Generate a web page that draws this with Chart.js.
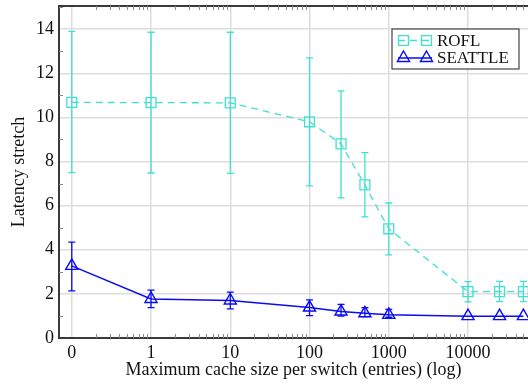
<!DOCTYPE html>
<html>
<head>
<meta charset="utf-8">
<script src="https://cdn.jsdelivr.net/npm/chart.js@4"></script>
<style>
  html, body { margin: 0; padding: 0; background: #fff; }
  canvas { display: block; }
</style>
</head>
<body>
<canvas id="myChart" width="528" height="386"></canvas>
<script>
// cache sizes per switch; 0 is put one decade below 1 on the log axis
const cacheSizes = [0, 1, 10, 100, 250, 500, 1000, 10000, 25000, 50000];

const roflMean = [10.68, 10.67, 10.66, 9.8, 8.8, 6.94, 4.95, 2.1, 2.1, 2.1];
const roflLow  = [7.5, 7.48, 7.46, 6.9, 6.35, 5.49, 3.77, 1.64, 1.65, 1.65];
const roflHigh = [13.9, 13.86, 13.86, 12.7, 11.2, 8.4, 6.12, 2.56, 2.57, 2.57];

const seattleMean = [3.27, 1.77, 1.7, 1.38, 1.2, 1.12, 1.05, 0.99, 0.99, 0.99];
const seattleLow  = [2.14, 1.38, 1.32, 1.01, 0.99, 0.97, 0.94, 0.99, 0.99, 0.99];
const seattleHigh = [4.35, 2.17, 2.08, 1.73, 1.52, 1.38, 1.3, 0.99, 0.99, 0.99];

const xTickValues = [0, 1, 10, 100, 1000, 10000];
const yTickValues = [0, 2, 4, 6, 8, 10, 12, 14];

const FONT = "'Liberation Serif', 'Times New Roman', serif";
const ROFL_COLOR = '#40e0d0';
const SEATTLE_COLOR = 'rgb(10,10,245)';

function toX(v) { return v === 0 ? 0.1 : v; }

function points(ys) {
    return cacheSizes.map((c, i) => ({ x: toX(c), y: ys[i] }));
}

function noPadding(scale) {
    scale.paddingTop = 0;
    scale.paddingBottom = 0;
    scale.paddingLeft = 0;
    scale.paddingRight = 0;
}

// error bars, minor ticks and the top frame line
const decorations = {
    id: 'decorations',
    beforeDatasetsDraw(chart) {
        const { ctx, chartArea: a, scales: { x, y } } = chart;
        ctx.save();

        // top frame
        ctx.strokeStyle = '#3a3a3a';
        ctx.lineWidth = 2;
        ctx.beginPath();
        ctx.moveTo(a.left - 1, a.top);
        ctx.lineTo(a.right, a.top);
        ctx.stroke();

        // minor ticks
        ctx.strokeStyle = '#8a8a8a';
        ctx.lineWidth = 1;
        ctx.beginPath();
        for (let d = 0.1; d < 1e5; d *= 10) {
            for (let m = 2; m <= 9; m++) {
                const v = d * m;
                if (v <= x.min || v >= x.max) continue;
                const px = Math.round(x.getPixelForValue(v)) + 0.5;
                ctx.moveTo(px, a.bottom);
                ctx.lineTo(px, a.bottom - 4);
                ctx.moveTo(px, a.top);
                ctx.lineTo(px, a.top + 4);
            }
        }
        for (let v = 1; v < y.max; v += 2) {
            const py = Math.round(y.getPixelForValue(v)) + 0.5;
            ctx.moveTo(a.left, py);
            ctx.lineTo(a.left + 4, py);
        }
        ctx.stroke();

        // error bars
        chart.data.datasets.forEach(ds => {
            ctx.strokeStyle = ds.borderColor;
            ctx.lineWidth = 1.3;
            ctx.setLineDash([]);
            ds.data.forEach((p, i) => {
                const lo = ds.errLow[i], hi = ds.errHigh[i];
                if (lo === hi) return;
                const px = x.getPixelForValue(p.x);
                const y0 = y.getPixelForValue(lo);
                const y1 = y.getPixelForValue(hi);
                ctx.beginPath();
                ctx.moveTo(px, y0);
                ctx.lineTo(px, y1);
                ctx.moveTo(px - 3.5, y0);
                ctx.lineTo(px + 3.5, y0);
                ctx.moveTo(px - 3.5, y1);
                ctx.lineTo(px + 3.5, y1);
                ctx.stroke();
            });
        });
        ctx.restore();
    },
    afterDraw(chart) {
        const { ctx, chartArea: a } = chart;
        const lx = a.right - 136, ly = a.top + 23, lw = 127, lh = 40;
        ctx.save();
        ctx.fillStyle = '#fff';
        ctx.fillRect(lx, ly, lw, lh);
        ctx.strokeStyle = '#444';
        ctx.lineWidth = 1.2;
        ctx.strokeRect(lx, ly, lw, lh);

        chart.data.datasets.forEach((ds, i) => {
            const cy = ly + 11.5 + i * 17.5;
            ctx.strokeStyle = ds.borderColor;
            ctx.lineWidth = ds.borderWidth;
            ctx.setLineDash(ds.borderDash || []);
            ctx.beginPath();
            ctx.moveTo(lx + 6, cy);
            ctx.lineTo(lx + 40, cy);
            ctx.stroke();
            ctx.setLineDash([]);
            ctx.fillStyle = 'rgba(0,0,0,0)';
            ctx.lineWidth = ds.pointBorderWidth;
            [lx + 11.5, lx + 34.5].forEach(px => {
                Chart.helpers.drawPoint(ctx, {
                    pointStyle: ds.pointStyle, radius: ds.pointRadius,
                    rotation: 0, borderWidth: ds.pointBorderWidth
                }, px, cy);
            });
            ctx.fillStyle = '#111';
            ctx.font = '17px ' + FONT;
            ctx.textBaseline = 'middle';
            ctx.textAlign = 'left';
            ctx.fillText(ds.label, lx + 45, cy + 1);
        });
        ctx.restore();
    }
};

const ctx = document.getElementById('myChart').getContext('2d');
const myChart = new Chart(ctx, {
    type: 'line',
    data: {
        datasets: [{
            label: 'ROFL',
            data: points(roflMean),
            errLow: roflLow,
            errHigh: roflHigh,
            borderColor: ROFL_COLOR,
            borderWidth: 1.3,
            borderDash: [7, 5],
            pointStyle: 'rect',
            pointRadius: 7,
            pointBorderWidth: 1.3,
            pointBackgroundColor: 'rgba(0,0,0,0)',
            pointBorderColor: ROFL_COLOR,
            tension: 0
        }, {
            label: 'SEATTLE',
            data: points(seattleMean),
            errLow: seattleLow,
            errHigh: seattleHigh,
            borderColor: SEATTLE_COLOR,
            borderWidth: 1.5,
            pointStyle: 'triangle',
            pointRadius: 7,
            pointBorderWidth: 1.4,
            pointBackgroundColor: 'rgba(0,0,0,0)',
            pointBorderColor: SEATTLE_COLOR,
            tension: 0
        }]
    },
    options: {
        responsive: false,
        animation: false,
        layout: {
            autoPadding: false,
            padding: { top: 6, right: 0, left: 0, bottom: 0 }
        },
        plugins: {
            legend: { display: false },
            tooltip: { enabled: false }
        },
        scales: {
            x: {
                type: 'logarithmic',
                min: 0.069,
                max: 57150,
                afterBuildTicks: scale => {
                    scale.ticks = xTickValues.map(v => ({ value: toX(v) }));
                },
                afterFit: scale => { scale.height = 48; noPadding(scale); },
                ticks: {
                    autoSkip: false,
                    maxRotation: 0,
                    padding: 4,
                    color: '#111',
                    font: { family: FONT, size: 18 },
                    callback: (value, index) => String(xTickValues[index])
                },
                grid: { color: '#dddddd', lineWidth: 1.5, drawTicks: false },
                border: { color: '#3a3a3a', width: 2 },
                title: {
                    display: true,
                    text: 'Maximum cache size per switch (entries) (log)',
                    color: '#111',
                    font: { family: FONT, size: 18 },
                    padding: { top: 0, bottom: 5 }
                }
            },
            y: {
                min: 0,
                max: 15.05,
                afterBuildTicks: scale => {
                    scale.ticks = yTickValues.map(v => ({ value: v }));
                },
                afterFit: scale => { scale.width = 59; noPadding(scale); },
                ticks: {
                    padding: 5,
                    color: '#111',
                    font: { family: FONT, size: 18 }
                },
                grid: { color: '#dddddd', lineWidth: 1.5, drawTicks: false },
                border: { color: '#3a3a3a', width: 2 },
                title: {
                    display: true,
                    text: 'Latency stretch',
                    color: '#111',
                    font: { family: FONT, size: 18 },
                    padding: { top: 8, bottom: 0 }
                }
            }
        }
    },
    plugins: [decorations]
});
</script>
</body>
</html>
